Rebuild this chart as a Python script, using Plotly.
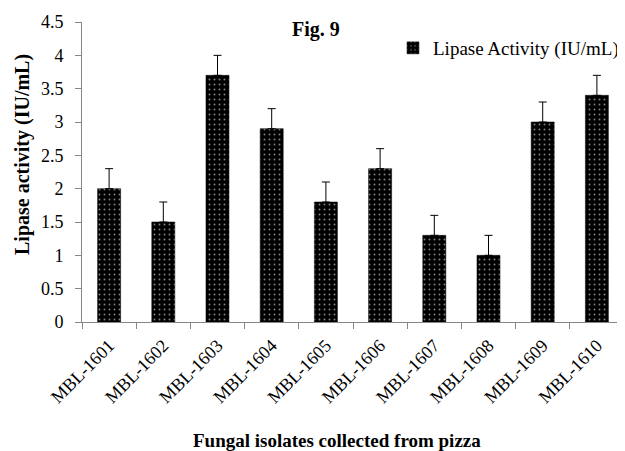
import plotly.graph_objects as go

isolates = ["MBL-1601", "MBL-1602", "MBL-1603", "MBL-1604", "MBL-1605",
            "MBL-1606", "MBL-1607", "MBL-1608", "MBL-1609", "MBL-1610"]
activity = [2.0, 1.5, 3.7, 2.9, 1.8, 2.3, 1.3, 1.0, 3.0, 3.4]
errors = [0.3, 0.3, 0.3, 0.3, 0.3, 0.3, 0.3, 0.3, 0.3, 0.3]
y_ticks = [0, 0.5, 1, 1.5, 2, 2.5, 3, 3.5, 4, 4.5]
y_labels = ["0", "0.5", "1", "1.5", "2", "2.5", "3", "3.5", "4", "4.5"]

FONT = "Liberation Serif"
W, H = 625, 451
OFF = 8  # page body margin

# plot area target: x 82..624, y 22..322 in the window
PX0, PX1, PY0, PY1 = 82, 624, 22, 322
def fx(px):
    return (px - PX0) / (PX1 - PX0)
def fy(py):
    return (PY1 - py) / (PY1 - PY0)

fig = go.Figure()
fig.add_trace(go.Bar(
    x=isolates, y=activity,
    name="Lipase Activity (IU/mL)",
    marker=dict(color="black", line=dict(color="black", width=0.5),
                pattern=dict(shape=".", fgcolor="white", bgcolor="black",
                             size=5, solidity=0.12)),
    error_y=dict(type="data", array=errors, symmetric=False, arrayminus=[0]*10,
                 color="black", thickness=1, width=4),
))

fig.update_layout(
    width=W, height=H,
    margin=dict(l=PX0 - OFF, r=W - (PX1 - OFF), t=PY0 - OFF, b=H - (PY1 - OFF)),
    paper_bgcolor="white", plot_bgcolor="white",
    font=dict(family=FONT, size=18, color="black"),
    bargap=0.575,
    showlegend=True,
    legend=dict(x=1.0, y=fy(29),
                xanchor="right", yanchor="top",
                font=dict(family=FONT, size=19), bgcolor="rgba(0,0,0,0)",
                itemwidth=30, tracegroupgap=0, borderwidth=0),
)
fig.add_annotation(text="<b>Fig. 9</b>", x=fx(316), y=fy(30),
                   xref="paper", yref="paper", xanchor="center", yanchor="middle",
                   showarrow=False, font=dict(family=FONT, size=20))
fig.add_annotation(text="<b>Fungal isolates collected from pizza</b>",
                   x=fx(337), y=fy(440),
                   xref="paper", yref="paper", xanchor="center", yanchor="middle",
                   showarrow=False, font=dict(family=FONT, size=19))
fig.add_annotation(text="<b>Lipase activity (IU/mL)</b>",
                   x=fx(22), y=fy(155), textangle=-90,
                   xref="paper", yref="paper", xanchor="center", yanchor="middle",
                   showarrow=False, font=dict(family=FONT, size=20))

fig.update_xaxes(
    type="category", tickangle=-45, tickson="boundaries", automargin=False,
    ticks="outside", ticklen=6, tickcolor="#868686",
    showline=True, linecolor="#868686", linewidth=1, ticklabelstandoff=5,
    tickfont=dict(family=FONT, size=18),
)
fig.update_yaxes(
    range=[0, 4.5], tickvals=y_ticks, ticktext=y_labels, automargin=False,
    ticks="outside", ticklen=6, tickcolor="#868686",
    showline=True, linecolor="#868686", linewidth=1,
    showgrid=False, zeroline=False, ticklabelstandoff=8,
    tickfont=dict(family=FONT, size=18),
)

fig.write_html("out.html")
